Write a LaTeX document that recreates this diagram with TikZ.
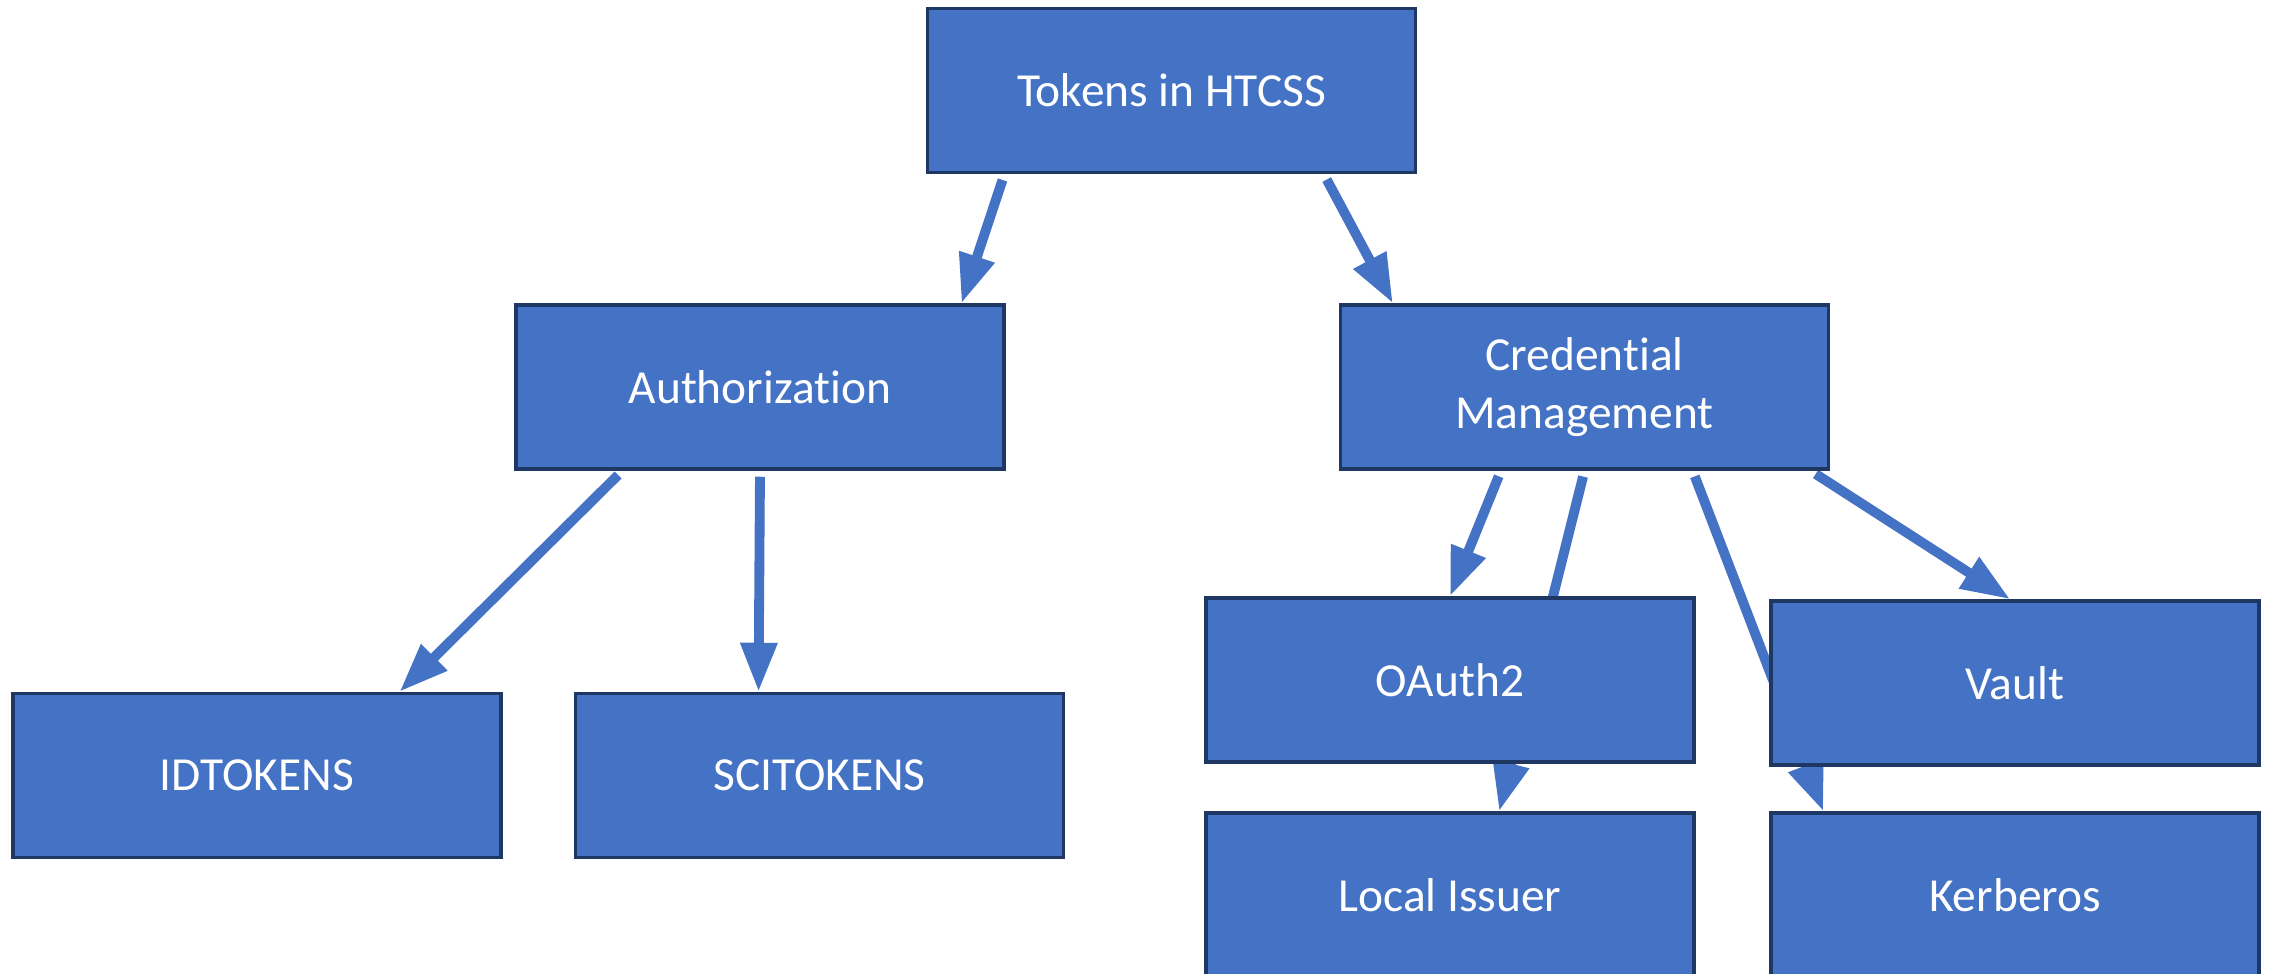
\documentclass[tikz,border=0pt]{standalone}
\usepackage{fontspec}
\setmainfont{Carlito}[Ligatures={NoCommon,NoContextual,NoRare}, RawFeature={-liga;-clig;-dlig}]
\usepackage{xcolor}
\usepackage{tikz}
\usetikzlibrary{arrows.meta, calc, backgrounds}

\definecolor{boxblue}{HTML}{4472C4}
\definecolor{boxedge}{HTML}{1F3763}

\begin{document}
\begin{tikzpicture}[
  font=\fontsize{13.5}{16.5}\selectfont,
  tokbox/.style={draw=boxedge, line width=1pt, fill=boxblue, text=white, align=center,
    minimum width=4.88cm, minimum height=1.64cm, inner sep=2pt},
  arr/.style={-{Triangle[length=4.9mm, width=3.5mm]}, line width=2.8pt, draw=boxblue, shorten <=0.6mm}
]
  \useasboundingbox (0,0) rectangle (22.72,-9.74);

  % Vrh
  \node[tokbox] (htcss) at (11.715, -0.905) {Tokens in HTCSS};

  % Druga razina
  \node[tokbox] (authz) at (7.60, -3.87) {Authorizat\kern0pt ion};
  \node[tokbox] (credm) at (15.845, -3.87) {Credent\kern0pt ial\\Management};

  % Autorizacija
  \node[tokbox] (idtok) at (2.57, -7.755) {IDTOKENS};
  \node[tokbox] (scitok) at (8.195, -7.755) {SCITOKENS};

  % Upravljanje vjerodajnicama
  \node[tokbox] (oauth) at (14.50, -6.80) {OAuth2};
  \node[tokbox] (vault) at (20.15, -6.83) {Vault};
  \node[tokbox] (lissuer) at (14.50, -8.95) {Local Issuer};
  \node[tokbox] (kerb) at (20.15, -8.95) {Kerberos};

  % Poveznice (iza kutija)
  \begin{scope}[on background layer]
    \draw[arr] ($(htcss.south west)!0.16!(htcss.south east)$) -- ($(authz.north west)!0.91!(authz.north east)$);
    \draw[arr] ($(htcss.south west)!0.81!(htcss.south east)$) -- ($(credm.north west)!0.11!(credm.north east)$);
    \draw[arr] ($(authz.south west)!0.22!(authz.south east)$) -- ($(idtok.north west)!0.79!(idtok.north east)$);
    \draw[arr] ($(authz.south west)!0.50!(authz.south east)$) -- ($(scitok.north west)!0.376!(scitok.north east)$);
    \draw[arr] ($(credm.south west)!0.33!(credm.south east)$) -- ($(oauth.north west)!0.50!(oauth.north east)$);
    \draw[arr] ($(credm.south west)!0.50!(credm.south east)$) -- ($(lissuer.north west)!0.60!(lissuer.north east)$);
    \draw[arr] ($(credm.south west)!0.72!(credm.south east)$) -- ($(kerb.north west)!0.11!(kerb.north east)$);
    \draw[arr] ($(credm.south west)!0.96!(credm.south east)$) -- ($(vault.north west)!0.49!(vault.north east)$);
  \end{scope}
\end{tikzpicture}
\end{document}
